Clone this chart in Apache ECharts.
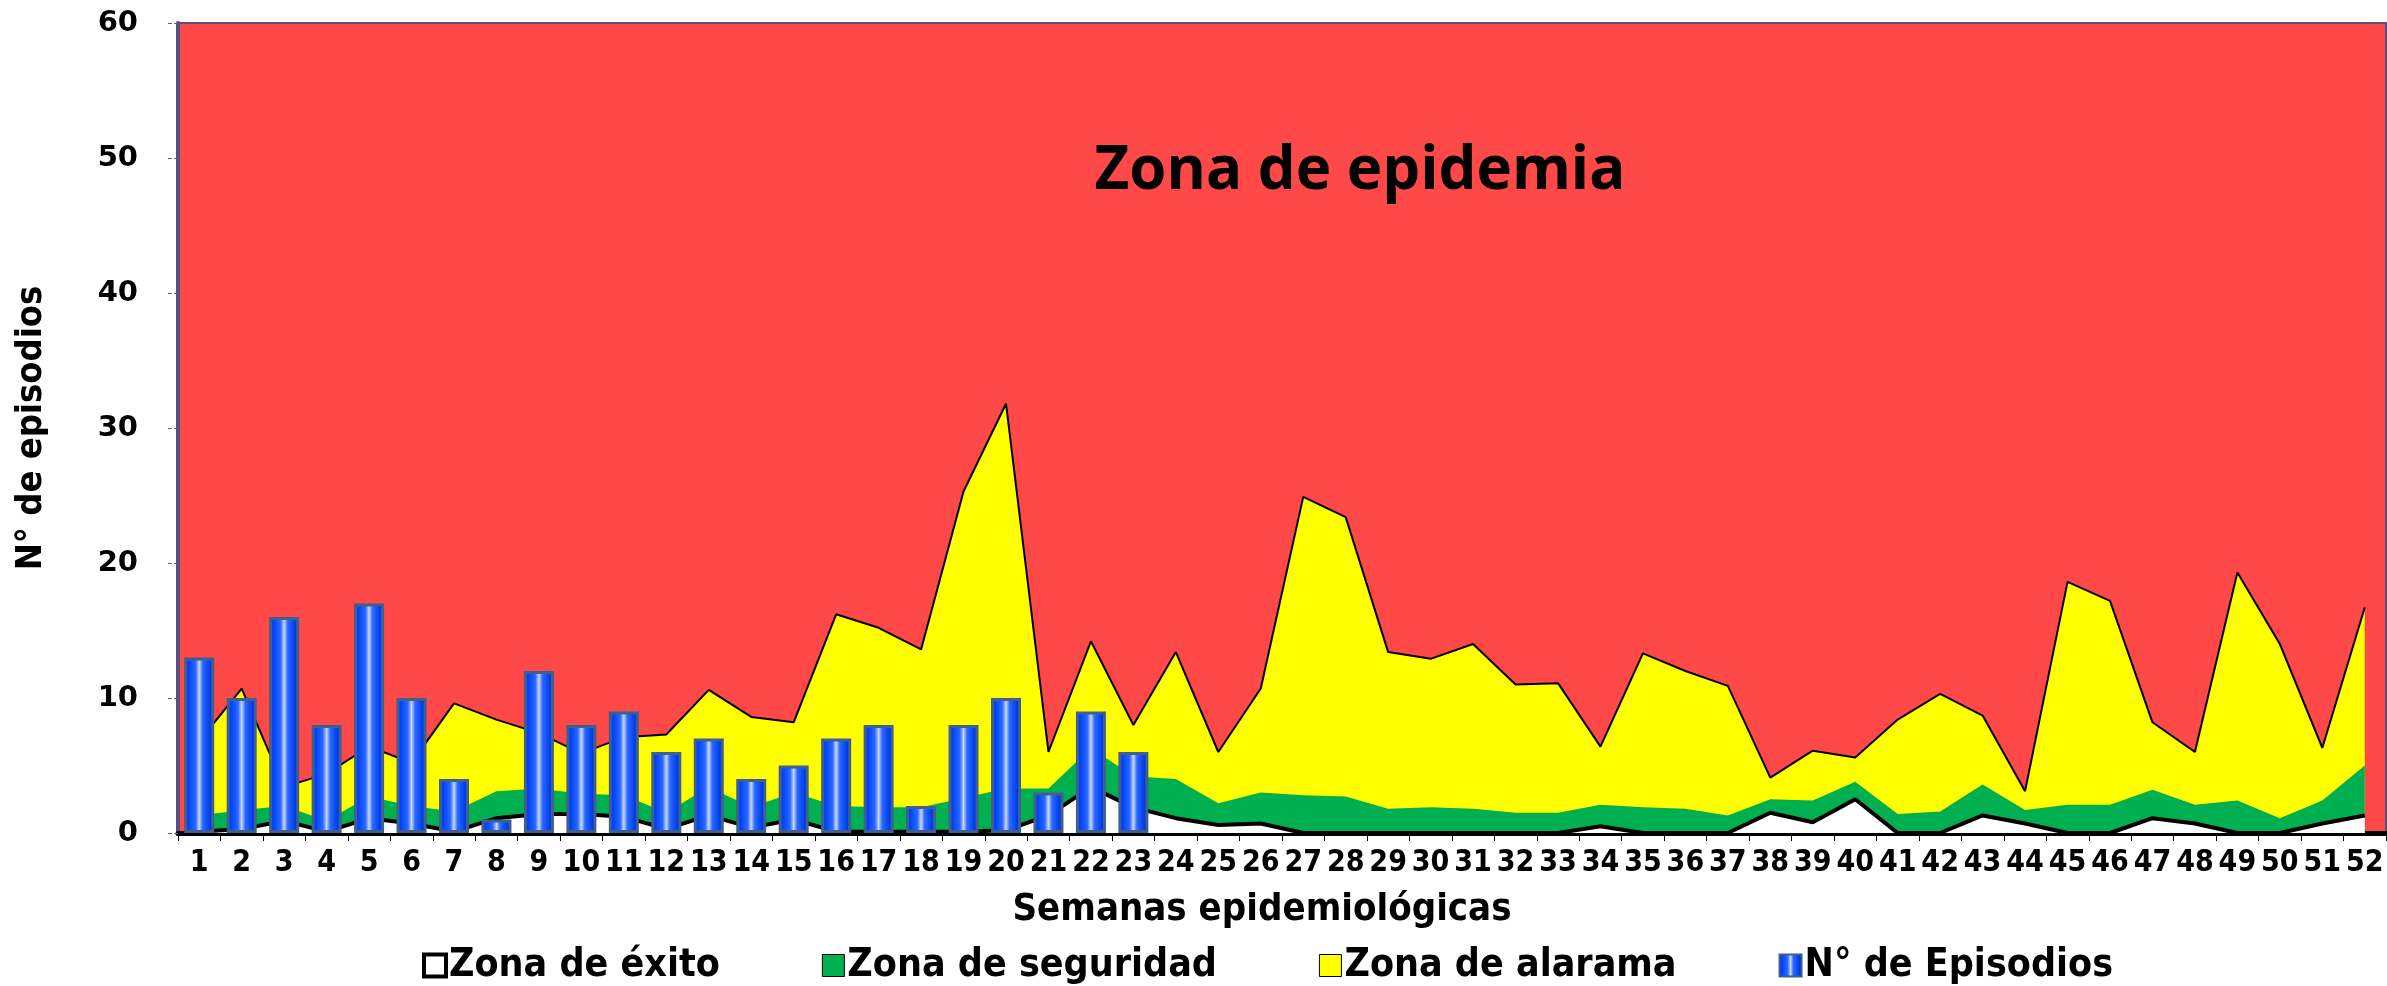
<!DOCTYPE html>
<html>
<head>
<meta charset="utf-8">
<title>Canal endémico</title>
<script src="https://cdn.jsdelivr.net/npm/echarts@6/dist/echarts.min.js"></script>
<style>
  html, body { margin: 0; padding: 0; background: #fff; }
  #chart { width: 2387px; height: 986px; }
</style>
</head>
<body>
<div id="chart"></div>
<script>
// semanas epidemiológicas
var semanas = ['1','2','3','4','5','6','7','8','9','10','11','12','13','14','15','16','17','18','19','20',
  '21','22','23','24','25','26','27','28','29','30','31','32','33','34','35','36','37','38','39','40',
  '41','42','43','44','45','46','47','48','49','50','51','52'];

// limite superior de cada zona
var limiteExito = [0.1,0.3,0.9,0.1,1.1,0.7,0.1,1.1,1.4,1.4,1.2,0.3,1.3,0.4,1.0,0.1,0.1,0.1,0.1,0.2,
  1.3,3.4,1.9,1.1,0.6,0.7,0,0,0,0,0,0,0,0.5,0,0,0,1.5,0.8,2.5,
  0,0,1.3,0.7,0,0,1.1,0.7,0,0,0.7,1.3];
var limiteSeguridad = [1.3,1.7,2.0,0.9,2.7,2.0,1.6,3.1,3.3,2.9,2.8,1.5,3.4,1.9,3.0,2.0,1.9,1.9,2.6,3.3,
  3.3,6.3,4.2,4.0,2.2,3.0,2.8,2.7,1.8,1.9,1.8,1.5,1.5,2.1,1.9,1.8,1.3,2.5,2.4,3.8,
  1.4,1.6,3.6,1.7,2.1,2.1,3.2,2.1,2.4,1.1,2.4,5.0];
var limiteAlarma = [6.8,10.7,3.4,4.4,6.4,5.2,9.6,8.4,7.4,5.9,7.1,7.3,10.6,8.6,8.2,16.2,15.2,13.6,25.3,31.8,
  6.0,14.2,8.0,13.4,6.0,10.7,24.9,23.4,13.4,12.9,14.0,11.0,11.1,6.4,13.3,12.0,10.9,4.1,6.1,5.6,
  8.4,10.3,8.7,3.1,18.6,17.2,8.2,6.0,19.3,14.0,6.3,16.7];

// N° de episodios (semanas 1-23)
var episodios = [13,10,16,8,17,10,4,1,12,8,9,6,7,4,5,7,8,2,8,10,3,9,6];

var fuenteAncha = '"DejaVu Sans", Verdana, sans-serif';
var fuenteEstrecha = '"Liberation Sans Narrow", "DejaVu Sans Condensed", "Open Sans", sans-serif';

function displayCanal(){
    var myChart = echarts.init(document.getElementById('chart'));

    // barra tipo cilindro
    var azulBarra = new echarts.graphic.LinearGradient(0, 0, 1, 0, [
        {offset: 0, color: '#0034D8'},
        {offset: 0.15, color: '#0044FF'},
        {offset: 0.38, color: '#2C68FF'},
        {offset: 0.5, color: '#C8D6F4'},
        {offset: 0.62, color: '#2C68FF'},
        {offset: 0.85, color: '#0040F0'},
        {offset: 1, color: '#0022A8'}
    ]);

    var option = {
        animation: false,
        backgroundColor: '#ffffff',
        grid: {
            left: 178, right: 1, top: 23, bottom: 153,
            show: true,
            backgroundColor: '#FF4848',
            borderColor: '#55507F',
            borderWidth: 2
        },
        graphic: [{
            type: 'text',
            x: 1360, y: 172,
            style: {
                text: 'Zona de epidemia',
                fill: '#000',
                font: 'bold 60px "Open Sans", sans-serif',
                textAlign: 'center',
                textVerticalAlign: 'middle'
            }
        }],
        legend: {
            top: 941,
            left: 417,
            itemGap: 102,
            itemWidth: 22,
            itemHeight: 22,
            textStyle: {fontFamily: fuenteEstrecha, fontWeight: 'bold', fontSize: 39, color: '#000', padding: [0, 0, 0, -2]},
            data: [
                {name: 'Zona de éxito', icon: 'rect', itemStyle: {color: '#fff', borderColor: '#000', borderWidth: 4}},
                {name: 'Zona de seguridad', icon: 'rect', itemStyle: {color: '#00B050', borderColor: '#000', borderWidth: 1}},
                {name: 'Zona de alarama', icon: 'rect', itemStyle: {color: '#FFFF00', borderColor: '#000', borderWidth: 1}},
                {name: 'N° de Episodios', icon: 'rect', itemStyle: {color: azulBarra, borderColor: '#3F5F8F', borderWidth: 2}}
            ]
        },
        xAxis: {
            type: 'category',
            data: semanas,
            boundaryGap: true,
            name: 'Semanas epidemiológicas',
            nameLocation: 'middle',
            nameGap: 58,
            nameTextStyle: {fontFamily: fuenteEstrecha, fontWeight: 'bold', fontSize: 38, color: '#000', padding: [0, 40, 0, 0]},
            axisLine: {show: true, lineStyle: {color: '#000', width: 5}},
            axisTick: {show: true, alignWithLabel: false, length: 8, lineStyle: {color: '#000', width: 1}},
            axisLabel: {interval: 0, margin: 15, fontFamily: fuenteEstrecha, fontWeight: 'bold', fontSize: 30, color: '#000'},
            splitLine: {show: false}
        },
        yAxis: {
            type: 'value',
            min: 0, max: 60, interval: 10,
            name: 'N° de episodios',
            nameLocation: 'middle',
            nameRotate: 90,
            nameGap: 128,
            nameTextStyle: {fontFamily: fuenteEstrecha, fontWeight: 'bold', fontSize: 36, color: '#000'},
            axisLine: {show: true, lineStyle: {color: '#55507F', width: 4}},
            axisTick: {show: true, length: 10, lineStyle: {color: '#6A5A9A', width: 1, type: 'dashed'}},
            axisLabel: {margin: 40, fontFamily: fuenteAncha, fontWeight: 'bold', fontSize: 29, color: '#000'},
            splitLine: {show: false}
        },
        series: [
            {
                name: 'Zona de alarama',
                type: 'line',
                data: limiteAlarma,
                symbol: 'none',
                lineStyle: {color: '#000', width: 2},
                areaStyle: {color: '#FFFF00', opacity: 1},
                itemStyle: {color: '#FFFF00'},
                z: 2
            },
            {
                name: 'Zona de seguridad',
                type: 'line',
                data: limiteSeguridad,
                symbol: 'none',
                lineStyle: {width: 0},
                areaStyle: {color: '#00B050', opacity: 1},
                itemStyle: {color: '#00B050'},
                z: 3
            },
            {
                name: 'Zona de éxito',
                type: 'line',
                data: limiteExito,
                symbol: 'none',
                lineStyle: {color: '#000', width: 4},
                areaStyle: {color: '#ffffff', opacity: 1},
                itemStyle: {color: '#ffffff'},
                z: 4
            },
            {
                name: 'N° de Episodios',
                type: 'bar',
                data: episodios,
                barWidth: 30,
                itemStyle: {color: azulBarra, borderColor: '#3F5F8F', borderWidth: 3},
                z: 5
            }
        ]
    };

    myChart.setOption(option);
    window.addEventListener('resize', function () {
        myChart.resize();
    });
}

displayCanal();
</script>
</body>
</html>
